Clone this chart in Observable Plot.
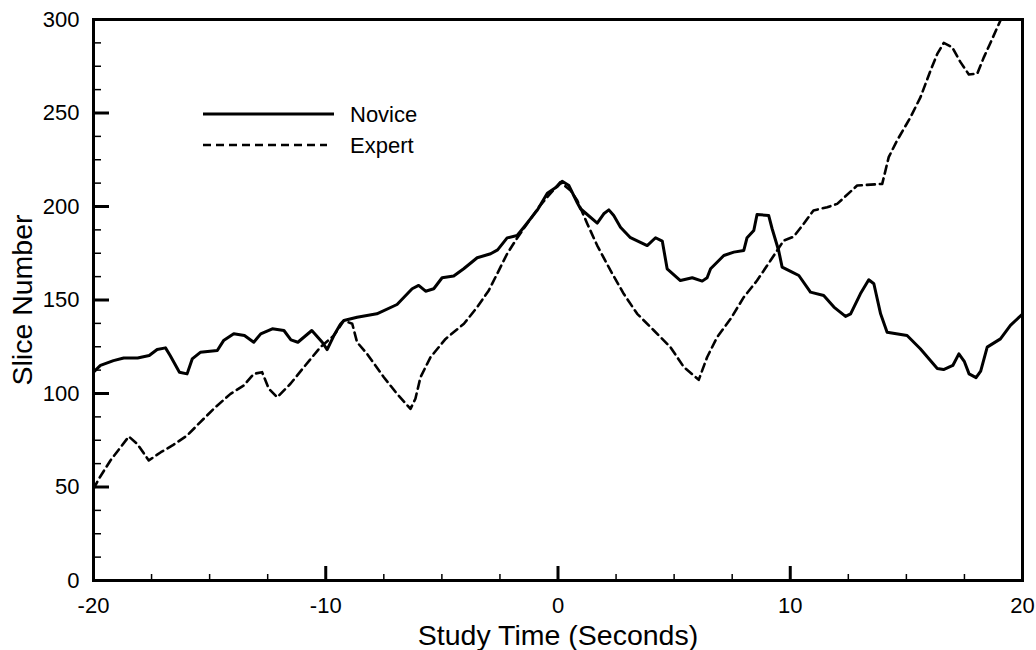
<!DOCTYPE html>
<html><head><meta charset="utf-8">
<script src="https://cdn.jsdelivr.net/npm/d3@7"></script>
<script src="https://cdn.jsdelivr.net/npm/@observablehq/plot@0.6"></script>
<style>
html,body{margin:0;padding:0;background:#fff;overflow:hidden}
#wrap{position:relative;width:1036px;height:650px}
#legend{position:absolute;left:0;top:0;pointer-events:none;font-family:"Liberation Sans",Arial,sans-serif;font-size:22px}
</style></head><body><div id="wrap"></div>
<script>
const noviceTime = [-20,-19.7,-19.14,-18.7,-18.1,-17.6,-17.26,-16.9,-16.7,-16.3,-15.97,-15.75,-15.4,-14.67,-14.4,-13.96,-13.5,-13.1,-12.8,-12.3,-11.8,-11.5,-11.2,-10.6,-10.15,-9.94,-9.65,-9.37,-9.22,-8.65,-7.8,-6.93,-6.28,-6.0,-5.7,-5.35,-4.99,-4.49,-4.06,-3.48,-2.9,-2.6,-2.19,-1.76,-1.47,-0.9,-0.46,-0.03,0.18,0.47,0.83,0.97,1.69,1.97,2.19,2.4,2.69,3.12,3.84,4.2,4.49,4.7,5.27,5.78,6.21,6.42,6.57,7.14,7.57,8.0,8.14,8.43,8.57,9.07,9.22,9.5,9.65,10.08,10.37,10.87,11.44,11.88,12.38,12.6,13.02,13.38,13.6,13.89,14.17,15.03,15.6,16.33,16.6,17.0,17.26,17.5,17.7,18.0,18.2,18.48,19.05,19.48,20];
const noviceSlice = [111.4,115,117.6,119,119,120.3,123.5,124.4,120.3,111.4,110.5,118.5,122,123,128.3,131.9,131,127.4,131.9,134.6,133.7,128.7,127.4,133.7,127.4,123.5,131,137,139,140.8,142.6,147.6,156,157.8,154.7,156,161.9,162.8,166.7,172.6,174.7,176.8,183.2,184.5,188.9,197.9,207.1,210.7,213.5,211.2,202,198.8,191.1,196.1,198.2,195.2,188.9,183.3,179.1,183.3,181.5,166.7,160.4,161.9,160.1,161.9,166.7,173.8,175.6,176.5,183.3,187.2,195.7,195.2,188.1,176.5,167.6,164.9,163.1,154.2,152.4,146.2,141.2,142.6,153.3,160.8,158.7,142.6,132.8,131,123.9,113.4,112.8,115,121.2,117,110.5,108.5,112,124.8,129.2,136.4,142.5];
const expertTime = [-20,-19.77,-19.27,-18.48,-18.12,-17.62,-17.1,-16.6,-15.97,-15.4,-14.75,-14.1,-13.53,-13.1,-12.74,-12.45,-12.09,-11.52,-10.94,-10.23,-9.65,-9.22,-8.86,-8.65,-8.22,-7.5,-6.93,-6.35,-6.14,-5.92,-5.49,-4.84,-4.05,-3.48,-2.98,-2.62,-2.19,-1.83,-1.33,-0.83,-0.4,0.1,0.54,0.83,1.26,1.69,2.26,2.83,3.41,4.13,4.84,5.42,6.06,6.42,6.85,7.43,8.0,8.57,9.15,9.72,10.15,10.58,11.0,11.59,12.02,12.88,13.96,14.24,14.6,15.18,15.61,16.04,16.33,16.61,16.97,17.33,17.69,18.05,18.34,18.7,19.05,19.15];
const expertSlice = [49,54.4,64.2,77,73.1,64.2,68.6,72.2,77.5,84.7,92.7,99.8,104.3,110.5,111.4,102.5,98,105.2,114.1,124.8,131,139,137.3,127.4,121.2,108.7,99.8,91.8,97.2,108.7,119.4,129.2,137.3,146.2,155.1,164,174.7,181.8,190.8,199.6,205.9,213,208.6,203.2,190.8,179.1,165.8,153.3,142.6,133.7,124.8,114.1,107.3,119.4,130.1,139.9,151.5,160.4,171.1,181.8,183.9,190.8,197.9,199.6,201.4,211.2,212.1,226.4,235.3,247.8,258.5,272.7,281.6,287.5,285.2,277.2,270.6,271,279.9,289.7,299.5,301];
const seriesNames = ["Novice", "Expert"];
const xMajorTicks = [-20, -10, 0, 10, 20];
const xMinorTicks = [-17.5, -15, -12.5, -7.5, -5, -2.5, 2.5, 5, 7.5, 12.5, 15, 17.5];
const yMajorTicks = [0, 50, 100, 150, 200, 250, 300];
const yMinorTicks = [12.5, 25, 37.5, 62.5, 75, 87.5, 112.5, 125, 137.5, 162.5, 175, 187.5, 212.5, 225, 237.5, 262.5, 275, 287.5];
const xTitle = "Study Time (Seconds)";
const yTitle = "Slice Number";

const novice = noviceTime.map((t, i) => ({series: seriesNames[0], t, v: noviceSlice[i]}));
const expert = expertTime.map((t, i) => ({series: seriesNames[1], t, v: expertSlice[i]}));

const blank = () => "";
const chart = Plot.plot({
  width: 1036, height: 650,
  marginLeft: 93, marginRight: 14, marginTop: 19, marginBottom: 70,
  style: {fontFamily: '"Liberation Sans", Arial, sans-serif', fontSize: "22px", color: "#000", background: "#fff", overflow: "visible"},
  x: {domain: [-20, 20]},
  y: {domain: [0, 300]},
  marks: [
    // inward ticks: anchored on the opposite side but placed on the bottom / left frame edge
    Plot.axisX(xMinorTicks, {anchor: "top", frameAnchor: "bottom", tickSize: 7, strokeWidth: 1.5, tickFormat: blank, label: null}),
    Plot.axisX(xMajorTicks, {anchor: "top", frameAnchor: "bottom", tickSize: 15, strokeWidth: 3, tickFormat: blank, label: null}),
    Plot.axisY(yMinorTicks, {anchor: "right", frameAnchor: "left", tickSize: 7, strokeWidth: 1.5, tickFormat: blank, label: null}),
    Plot.axisY(yMajorTicks, {anchor: "right", frameAnchor: "left", tickSize: 15, strokeWidth: 3, tickFormat: blank, label: null}),
    // tick labels
    Plot.axisX(xMajorTicks, {anchor: "bottom", tickSize: 0, tickPadding: 17, tickFormat: d => String(d), label: null}),
    Plot.axisY(yMajorTicks, {anchor: "left", tickSize: 0, tickPadding: 14, tickFormat: d => String(d), label: null}),
    Plot.line(novice, {x: "t", y: "v", stroke: "#000", strokeWidth: 3, clip: true}),
    Plot.line(expert, {x: "t", y: "v", stroke: "#000", strokeWidth: 2.6, strokeDasharray: "8,5", clip: true}),
    Plot.frame({stroke: "#000", strokeWidth: 3}),
    Plot.text([xTitle], {text: d => d, frameAnchor: "bottom", dy: 55, textAnchor: "middle", lineAnchor: "middle", fontSize: 28.5, fill: "#000"}),
    Plot.text([yTitle], {text: d => d, frameAnchor: "left", dx: -71, rotate: -90, textAnchor: "middle", lineAnchor: "middle", fontSize: 28.5, fill: "#000"})
  ]
});
const wrap = document.getElementById("wrap");
wrap.appendChild(chart);

// Legend overlay (inside plot area, top-left)
const ns = "http://www.w3.org/2000/svg";
const leg = document.createElementNS(ns, "svg");
leg.setAttribute("id", "legend");
leg.setAttribute("width", 1036);
leg.setAttribute("height", 650);
const legendItems = [
  {name: seriesNames[0], dash: null, sw: 3, y: 114, x2: 334},
  {name: seriesNames[1], dash: "8,5", sw: 2.6, y: 145, x2: 327}
];
for (const it of legendItems) {
  const l = document.createElementNS(ns, "line");
  l.setAttribute("x1", 203); l.setAttribute("x2", it.x2);
  l.setAttribute("y1", it.y); l.setAttribute("y2", it.y);
  l.setAttribute("stroke", "#000"); l.setAttribute("stroke-width", it.sw);
  if (it.dash) l.setAttribute("stroke-dasharray", it.dash);
  leg.appendChild(l);
  const tx = document.createElementNS(ns, "text");
  tx.setAttribute("x", 350); tx.setAttribute("y", it.y + 8);
  tx.setAttribute("fill", "#000");
  tx.textContent = it.name;
  leg.appendChild(tx);
}
wrap.appendChild(leg);
</script>
</body></html>
